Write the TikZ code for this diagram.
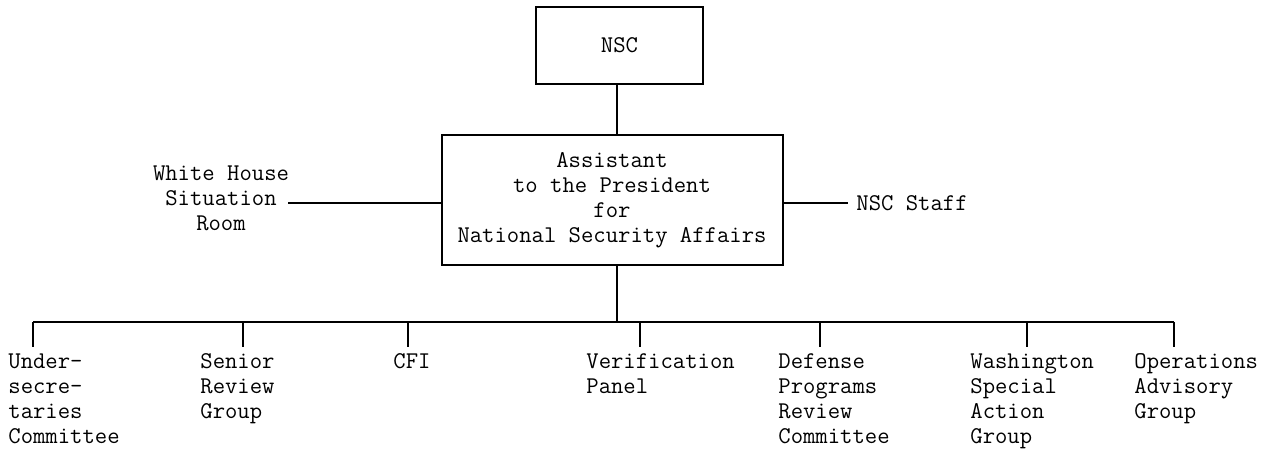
\documentclass[tikz,border=0pt]{standalone}
\begin{document}
\begin{tikzpicture}[x=0.5pt,y=-0.5pt,
  every node/.style={font=\ttfamily\fontsize{12}{12.5}\selectfont},
  box/.style={draw,line width=1pt,inner sep=0pt},
  lab/.style={inner sep=0pt,align=left,anchor=north west},
  conn/.style={line width=1pt}]
\useasboundingbox (0,0) rectangle (1271,453);
% top boxes
\node[box,minimum width=83.5pt,minimum height=38.5pt] (nsc) at (619.5,45.5) {NSC};
\node[box,minimum width=170.5pt,minimum height=65pt,align=center] (apa) at (612,200)
  {Assistant\\ to the President\\ for\\National Security Affairs};
\coordinate (stem) at (617,100);
\draw[conn] (nsc.south -| stem) -- (apa.north -| stem);
% side labels
\node[inner sep=0pt,align=center] (wh) at (221,198) {White House\\Situation\\Room};
\node[inner sep=0pt,anchor=west] (staff) at (856,203) {NSC Staff};
\coordinate (whl) at (288,203);
\coordinate (staffl) at (848,203);
\draw[conn] (whl) -- (apa.west |- whl);
\draw[conn] (apa.east |- staffl) -- (staffl);
% bus
\coordinate (bus) at (617,322);
\coordinate (b1) at (33,322);
\coordinate (b7) at (1174,322);
\draw[conn] (apa.south -| bus) -- (bus);
\draw[conn] (b1) -- (b7);
\foreach \x/\n in {33/1,243/2,408/3,640/4,820/5,1027/6,1174/7}{
  \coordinate (t\n) at (\x,322);
  \coordinate (e\n) at (\x,347);
  \draw[conn] (t\n) -- (e\n);
}
% bottom labels
\node[lab] (l1) at (8,353) {Under-\\secre-\\taries\\Committee};
\node[lab] (l2) at (200,353) {Senior\\Review\\Group};
\node[lab] (l3) at (393,353) {CFI};
\node[lab] (l4) at (586,353) {Verification\\Panel};
\node[lab] (l5) at (778,353) {Defense\\Programs\\Review\\Committee};
\node[lab] (l6) at (970,353) {Washington\\Special\\Action\\Group};
\node[lab] (l7) at (1134,353) {Operations\\Advisory\\Group};
\end{tikzpicture}
\end{document}
